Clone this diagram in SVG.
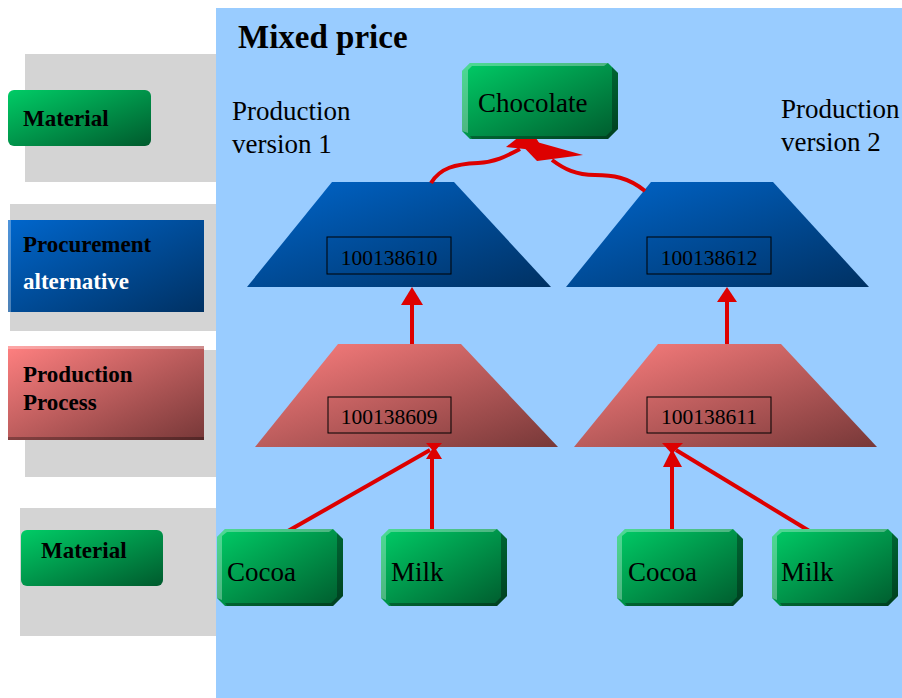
<svg xmlns="http://www.w3.org/2000/svg" width="902" height="698" viewBox="0 0 902 698">
<defs>
<linearGradient id="gGreen" x1="0" y1="0" x2="1" y2="1">
<stop offset="0" stop-color="#00CC66"/><stop offset="1" stop-color="#005A2D"/>
</linearGradient>
<linearGradient id="gBlue" x1="0" y1="0" x2="1" y2="1">
<stop offset="0" stop-color="#0066CC"/><stop offset="1" stop-color="#003163"/>
</linearGradient>
<linearGradient id="gRed" x1="0" y1="0" x2="1" y2="1">
<stop offset="0" stop-color="#FF8080"/><stop offset="1" stop-color="#773838"/>
</linearGradient>
<style>
.bg{fill:#99CCFF}
.gray{fill:#D4D4D4}
.green{fill:url(#gGreen)}
.blue{fill:url(#gBlue)}
.red{fill:url(#gRed)}
.lite{fill:#FFFFFF;fill-opacity:0.3}
.dark{fill:#000000;fill-opacity:0.3}
.lab{font-family:"Liberation Serif","Times New Roman",serif;font-weight:bold;font-size:23px;fill:#000}
.title{font-family:"Liberation Serif","Times New Roman",serif;font-weight:bold;font-size:33px;fill:#000}
.txt{font-family:"Liberation Serif","Times New Roman",serif;font-size:27px;fill:#000}
.num{font-family:"Liberation Serif","Times New Roman",serif;font-size:21.5px;fill:#000;text-anchor:middle}
.box{fill:none;stroke:#000;stroke-width:1}
.ln{fill:none;stroke:#DD0000;stroke-width:4}
.hd{fill:#DD0000}
</style>
</defs>

<g id="background">
<rect x="216" y="8" width="686" height="690" class="bg"/>
<rect x="25" y="54" width="191" height="128" class="gray"/>
<rect x="10" y="204" width="206" height="127" class="gray"/>
<rect x="25" y="350" width="191" height="127" class="gray"/>
<rect x="20" y="508" width="196" height="128" class="gray"/>
</g>

<g id="legend-material-1">
<rect x="8" y="90" width="143" height="56" rx="6" class="green"/>
<text x="23" y="126" class="lab">Material</text>
</g>
<g id="legend-procurement">
<rect x="8" y="220" width="196" height="92" class="blue"/>
<rect x="8" y="220" width="3" height="92" class="lite"/>
<text x="23" y="252" class="lab">Procurement</text>
<text x="23" y="289" class="lab" style="fill:#FFFFFF">alternative</text>
</g>
<g id="legend-production">
<rect x="8" y="346" width="196" height="94" class="red"/>
<rect x="8" y="346" width="196" height="3" class="lite"/>
<rect x="8" y="437" width="196" height="3" class="dark"/>
<text x="23" y="382" class="lab">Production</text>
<text x="23" y="410" class="lab">Process</text>
</g>
<g id="legend-material-2">
<rect x="21" y="530" width="142" height="56" rx="6" class="green"/>
<text x="41" y="558" class="lab">Material</text>
</g>

<g id="title">
<text x="238" y="48" class="title">Mixed price</text>
<text x="232" y="120" class="txt">Production</text>
<text x="232" y="153" class="txt">version 1</text>
<text x="781" y="118" class="txt">Production</text>
<text x="781" y="151" class="txt">version 2</text>
</g>

<g id="pv1-procurement">
<polygon points="332,182 454,182 551,287 247,287" class="blue"/>
<rect x="327" y="237" width="124" height="37" class="box"/>
<text x="389" y="265" class="num">100138610</text>
</g>
<g id="pv1-production">
<polygon points="338,344 461,344 558,447 255,447" class="red"/>
<rect x="328" y="397" width="123" height="36" class="box"/>
<text x="389" y="424" class="num">100138609</text>
</g>
<g id="pv2-procurement">
<polygon points="651,182 773,182 869,287 566,287" class="blue"/>
<rect x="647" y="237" width="124" height="37" class="box"/>
<text x="709" y="265" class="num">100138612</text>
</g>
<g id="pv2-production">
<polygon points="658,344 781,344 877,447 574,447" class="red"/>
<rect x="647" y="397" width="124" height="36" class="box"/>
<text x="709" y="424" class="num">100138611</text>
</g>

<g id="connectors">
<path class="ln" d="M431,183 C440,168 455,164 478,163 C495,162 505,157 520,149"/>
<polygon class="hd" points="506,147 530,128 544,151"/>
<path class="ln" d="M645,191 C628,177 612,175 595,175 C576,175 564,169 552,160"/>
<polygon class="hd" points="512,135 583,155 537,161"/>
<line class="ln" x1="412" y1="344" x2="412" y2="303"/>
<polygon class="hd" points="401,305 423,305 412,287"/>
<line class="ln" x1="727" y1="344" x2="727" y2="300"/>
<polygon class="hd" points="717,302 737,302 727,287"/>
<line class="ln" x1="288" y1="531" x2="430" y2="450"/>
<line class="ln" x1="432" y1="531" x2="432" y2="457"/>
<polygon class="hd" points="426,459 442,459 434,446"/>
<polygon class="hd" points="426,443 442,443 434,452"/>
<line class="ln" x1="672" y1="531" x2="672" y2="465"/>
<polygon class="hd" points="663,467 682,467 672,449"/>
<polygon class="hd" points="662,443 683,443 672,454"/>
<line class="ln" x1="811" y1="532" x2="676" y2="450"/>
</g>

<g id="chocolate" transform="translate(462,63)">
<path class="green" d="M8,0 H146 L156,10 V66 L146,76 H8 L0,68 V8 Z"/>
<path class="lite" d="M8,0 H146 L142,3 H10 L6,7 V70 L0,68 V8 Z"/>
<path class="dark" d="M150,4 L156,10 V66 L146,76 H10 L8,73 H144 L150,67 Z"/>
<text x="16" y="49" class="txt">Chocolate</text>
</g>
<g id="cocoa-1" transform="translate(217,529)">
<path class="green" d="M8,0 H116 L126,10 V67 L116,77 H8 L0,69 V8 Z"/>
<path class="lite" d="M8,0 H116 L112,3 H10 L5,7 V71 L0,69 V8 Z"/>
<path class="dark" d="M120,4 L126,10 V67 L116,77 H10 L8,74 H114 L120,68 Z"/>
<text x="10" y="52" class="txt">Cocoa</text>
</g>
<g id="milk-1" transform="translate(381,529)">
<path class="green" d="M8,0 H116 L126,10 V67 L116,77 H8 L0,69 V8 Z"/>
<path class="lite" d="M8,0 H116 L112,3 H10 L5,7 V71 L0,69 V8 Z"/>
<path class="dark" d="M120,4 L126,10 V67 L116,77 H10 L8,74 H114 L120,68 Z"/>
<text x="10" y="52" class="txt">Milk</text>
</g>
<g id="cocoa-2" transform="translate(617,529)">
<path class="green" d="M8,0 H116 L126,10 V67 L116,77 H8 L0,69 V8 Z"/>
<path class="lite" d="M8,0 H116 L112,3 H10 L5,7 V71 L0,69 V8 Z"/>
<path class="dark" d="M120,4 L126,10 V67 L116,77 H10 L8,74 H114 L120,68 Z"/>
<text x="11" y="52" class="txt">Cocoa</text>
</g>
<g id="milk-2" transform="translate(772,529)">
<path class="green" d="M8,0 H116 L126,10 V67 L116,77 H8 L0,69 V8 Z"/>
<path class="lite" d="M8,0 H116 L112,3 H10 L5,7 V71 L0,69 V8 Z"/>
<path class="dark" d="M120,4 L126,10 V67 L116,77 H10 L8,74 H114 L120,68 Z"/>
<text x="9" y="52" class="txt">Milk</text>
</g>
</svg>
